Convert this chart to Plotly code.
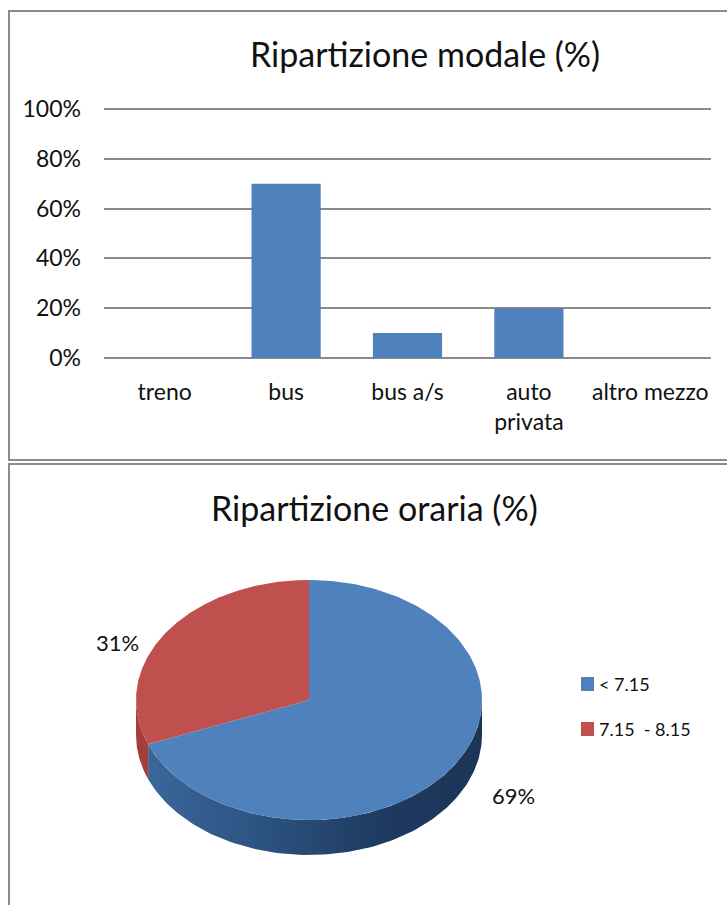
import numpy as np
import plotly.graph_objects as go

W, H = 727, 905
FONT = 'Lato'

categories = ['treno', 'bus', 'bus a/s', 'auto<br>privata', 'altro mezzo']
modal_values = [0, 70, 10, 20, 0]
y_ticks = [0, 20, 40, 60, 80, 100]
y_labels = ['0%', '20%', '40%', '60%', '80%', '100%']

slot_names = ['< 7.15', '7.15  - 8.15']
slot_values = [69, 31]
slot_colors = ['#4f81bd', '#c0504d']

TILT = 0.694
DEPTH = 0.202


def paper_x(px):
    return px / W


def paper_y(px):
    return 1 - px / H


def ell(deg):
    # clockwise from 12 o'clock, like the spreadsheet pie
    a = np.radians(deg)
    return np.sin(a), TILT * np.cos(a)


fig = go.Figure()

fig.add_trace(go.Bar(x=categories, y=modal_values, width=0.57,
                     marker=dict(color='#4f81bd', line_width=0),
                     xaxis='x', yaxis='y', hoverinfo='skip'))

# pie: walls first, top faces over them
split = 360 * slot_values[0] / sum(slot_values)

wall_x, wall_y = ell(np.linspace(90, split, 120))
fig.add_trace(go.Scatter(x=np.r_[wall_x, wall_x[::-1]],
                         y=np.r_[wall_y, wall_y[::-1] - DEPTH],
                         mode='lines', line_width=0, fill='toself',
                         fillgradient=dict(type='horizontal',
                                           colorscale=[[0, '#3a6699'], [0.35, '#2c5280'],
                                                       [0.7, '#1e3a5f'], [1, '#1c3557']]),
                         xaxis='x2', yaxis='y2', hoverinfo='skip'))

wall_x, wall_y = ell(np.linspace(split, 270, 40))
fig.add_trace(go.Scatter(x=np.r_[wall_x, wall_x[::-1]],
                         y=np.r_[wall_y, wall_y[::-1] - DEPTH],
                         mode='lines', line_width=0, fill='toself', fillcolor='#a33f3b',
                         xaxis='x2', yaxis='y2', hoverinfo='skip'))

start = 0
for value, color in zip(slot_values, slot_colors):
    end = start + 360 * value / sum(slot_values)
    arc_x, arc_y = ell(np.linspace(start, end, 200))
    fig.add_trace(go.Scatter(x=np.r_[0, arc_x, 0], y=np.r_[0, arc_y, 0],
                             mode='lines', line_width=0, fill='toself', fillcolor=color,
                             xaxis='x2', yaxis='y2', hoverinfo='skip'))
    start = end

annotations = [
    dict(text='Ripartizione modale (%)', x=paper_x(425), y=paper_y(53), size=34),
    dict(text='Ripartizione oraria (%)', x=paper_x(374.5), y=paper_y(508), size=34),
    dict(text=f'{slot_values[1]}%', x=paper_x(117), y=paper_y(642), size=22),
    dict(text=f'{slot_values[0]}%', x=paper_x(513), y=paper_y(795), size=22),
]
annotations = [dict(xref='paper', yref='paper', x=a['x'], y=a['y'], text=a['text'],
                    showarrow=False, xanchor='center', yanchor='middle',
                    font=dict(family=FONT, size=a['size'], color='#111111'))
               for a in annotations]

# legend
legend_tops = [677, 722]
for name, top in zip(slot_names, legend_tops):
    annotations.append(dict(xref='paper', yref='paper', x=paper_x(597), y=paper_y(top + 7),
                            text=name, showarrow=False, xanchor='left', yanchor='middle',
                            font=dict(family=FONT, size=18, color='#111111')))

# panel frames, open on the right like the screenshot
x0, x1 = paper_x(9), 1
shapes = []
for top, bottom in [(paper_y(11), paper_y(460)), (paper_y(464), None)]:
    if bottom is None:
        path = f'M {x1} {top} L {x0} {top} L {x0} 0'
    else:
        path = f'M {x1} {top} L {x0} {top} L {x0} {bottom} L {x1} {bottom}'
    shapes.append(dict(type='path', xref='paper', yref='paper', path=path,
                       line=dict(color='#8c8c8c', width=2)))
for color, top in zip(slot_colors, legend_tops):
    shapes.append(dict(type='rect', xref='paper', yref='paper', layer='above',
                       x0=paper_x(581), x1=paper_x(594),
                       y0=paper_y(top + 14), y1=paper_y(top),
                       fillcolor=color, line_width=0))

fig.update_layout(
    width=W, height=H, margin=dict(l=0, r=0, t=0, b=0, pad=0),
    paper_bgcolor='white', plot_bgcolor='rgba(0,0,0,0)', showlegend=False,
    font=dict(family=FONT, color='#111111'),
    annotations=annotations, shapes=shapes,
    xaxis=dict(domain=[paper_x(104), paper_x(711)], type='category',
               categoryorder='array', categoryarray=categories, automargin=False,
               tickfont=dict(size=23), ticks='', ticklabelstandoff=18,
               showline=False, showgrid=False, zeroline=False, fixedrange=True),
    # top of range a hair over 100 so plotly keeps the 100% gridline
    yaxis=dict(domain=[paper_y(358), paper_y(107.7)], range=[0, 100.5], automargin=False,
               tickvals=y_ticks, ticktext=y_labels, tickfont=dict(size=23),
               ticks='', ticklabelstandoff=22,
               showgrid=True, gridcolor='#8a8a8a', gridwidth=1.5,
               zeroline=True, zerolinecolor='#8a8a8a', zerolinewidth=1.5,
               showline=False, fixedrange=True),
    xaxis2=dict(domain=[paper_x(136), paper_x(482)], range=[-1, 1], visible=False,
                anchor='y2', fixedrange=True, automargin=False),
    yaxis2=dict(domain=[paper_y(855), paper_y(580)], range=[-TILT - DEPTH, TILT],
                visible=False, anchor='x2', fixedrange=True, automargin=False),
)

fig.write_html('out.html', config=dict(displayModeBar=False),
               post_script="document.body.style.margin='0';")
